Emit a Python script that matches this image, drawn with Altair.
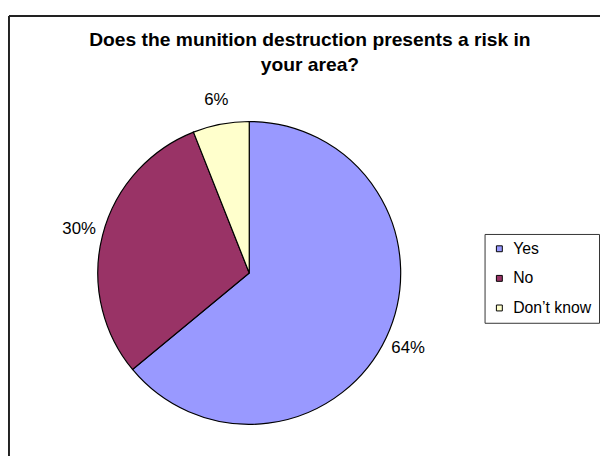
import altair as alt
import pandas as pd

# ---- data ----
categories = ["Yes", "No", "Don\u2019t know"]
shares = [64, 30, 6]
labels = ["64%", "30%", "6%"]
colors = ["#9999FF", "#993366", "#FFFFCC"]
title_lines = ["Does the munition destruction presents a risk in", "your area?"]

df = pd.DataFrame({
    "category": categories,
    "share": shares,
    "label": labels,
    "rank": list(range(len(categories))),
})
frame_df = pd.DataFrame({"k": [0]})

PAD_TOP = 64
W, H = 599, 384          # plot area (view origin at page x=9, y=72)
CX, CY, R = 243.5, 201.5, 153.5
FRAME_TOP = -59
FONT = "Liberation Sans"

base = alt.Chart(df).encode(
    theta=alt.Theta("share:Q", stack=True),
    order=alt.Order("rank:Q"),
)

pie = base.mark_arc(outerRadius=R, stroke="black", strokeWidth=1.2).encode(
    color=alt.Color(
        "category:N",
        scale=alt.Scale(domain=categories, range=colors),
        legend=alt.Legend(
            title=None,
            orient="none",
            legendX=482,
            legendY=162,
            direction="vertical",
            symbolType="square",
            symbolSize=36,
            symbolStrokeColor="black",
            symbolStrokeWidth=1,
            labelFont=FONT,
            labelFontSize=16,
            labelColor="black",
            labelOffset=6,
            labelExpr="datum.label + '\u00a0\u00a0\u00a0\u00a0'",
            rowPadding=14,
            padding=7,
            strokeColor="#333333",
            fillColor="white",
        ),
    ),
    x=alt.value(CX),
    y=alt.value(CY),
)

text = base.mark_text(radius=178, fontSize=17, font=FONT, color="black").encode(
    text="label:N",
    x=alt.value(CX),
    y=alt.value(CY),
)

left_line = alt.Chart(frame_df).mark_rule(color="#222222", strokeWidth=2).encode(
    x=alt.value(0), y=alt.value(FRAME_TOP), y2=alt.value(H + 20)
)
top_line = alt.Chart(frame_df).mark_rule(color="#222222", strokeWidth=2).encode(
    x=alt.value(0), x2=alt.value(W + 20), y=alt.value(FRAME_TOP)
)

chart = alt.layer(left_line, top_line, pie, text).properties(
    width=W,
    height=H,
    autosize=alt.AutoSizeParams(type="none"),
    padding={"left": 1, "top": PAD_TOP, "right": 0, "bottom": 0},
    background="white",
    title=alt.TitleParams(
        text=title_lines,
        font=FONT,
        fontSize=19.5,
        fontWeight="bold",
        color="black",
        frame="group",
        anchor="start",
        align="center",
        dx=305,
        dy=61,
        offset=0,
        lineHeight=25,
    ),
).configure_view(stroke=None)

chart.save("out.html", embed_options={"renderer": "svg", "actions": False})
